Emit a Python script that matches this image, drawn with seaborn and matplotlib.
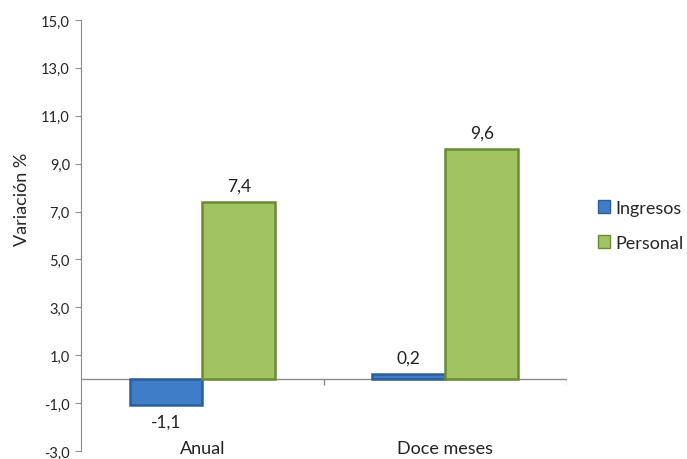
import pandas as pd
import matplotlib.pyplot as plt
import seaborn as sns
from matplotlib.ticker import FuncFormatter, FixedLocator

categorias = ["Anual", "Doce meses"]
series = ["Ingresos", "Personal"]
ingresos = [-1.1, 0.2]
personal = [7.4, 9.6]
marcas_y = [-3, -1, 1, 3, 5, 7, 9, 11, 13, 15]

colores = {"Ingresos": "#3F7DC8", "Personal": "#A2C361"}
bordes = {"Ingresos": "#2C5E98", "Personal": "#6A8A34"}

df = pd.DataFrame({
    "Periodo": categorias * 2,
    "Serie": ["Ingresos"] * len(categorias) + ["Personal"] * len(categorias),
    "Valor": ingresos + personal,
})

sns.set_style("white")
plt.rcParams["font.family"] = ["Lato", "DejaVu Sans"]

fig = plt.figure(figsize=(6.87, 4.6), dpi=100)
ax = fig.add_axes([0.118, 0.0174, 0.707, 0.937])

sns.barplot(data=df, x="Periodo", y="Valor", hue="Serie", order=categorias,
            hue_order=series, palette=colores, width=0.6, ax=ax,
            saturation=1, legend=False)

for cont, s in zip(ax.containers, series):
    for b in cont:
        b.set_edgecolor(bordes[s])
        b.set_linewidth(1.8)
    ax.bar_label(cont, labels=[f"{v:.1f}".replace(".", ",") for v in cont.datavalues],
                 padding=6, fontsize=12.5, color="#222222")

ax.set_ylim(-3, 15)
ax.set_xlim(-0.5, 1.5)
ax.yaxis.set_major_locator(FixedLocator(marcas_y))
ax.yaxis.set_major_formatter(FuncFormatter(lambda v, p: f"{v:.1f}".replace(".", ",")))
ax.set_ylabel("Variación %", fontsize=13)
ax.yaxis.set_label_coords(-0.105, 0.587)
ax.set_xlabel("")

for side in ["top", "right", "bottom"]:
    ax.spines[side].set_visible(False)
ax.spines["left"].set_color("#8C8C8C")
ax.tick_params(axis="y", length=4, color="#8C8C8C", labelsize=10.5, pad=4, left=True)
ax.tick_params(axis="x", length=0, labelsize=13, pad=-8)
for t in ax.get_xticklabels():
    t.set_color("#222222")

ax.axhline(0, color="#8C8C8C", lw=1.0, zorder=0)
ax.vlines([0.5, 1.5], -0.25, 0, color="#8C8C8C", lw=1.0)

handles = [plt.Rectangle((0, 0), 1, 1, facecolor=colores[s], edgecolor=bordes[s], lw=1) for s in series]
ax.legend(handles, series, loc="center left", bbox_to_anchor=(1.03, 0.523),
          frameon=False, fontsize=13, handlelength=0.7, handleheight=0.7,
          handletextpad=0.3, labelspacing=1.05)

fig.savefig("out.png", dpi=100)
